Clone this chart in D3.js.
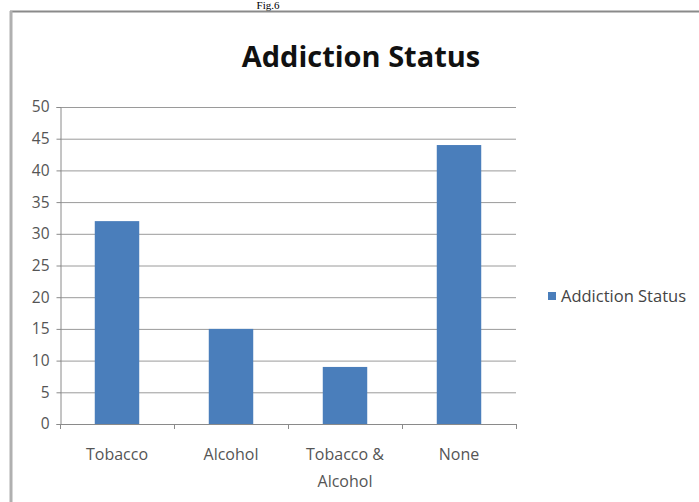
<!DOCTYPE html>
<html>
<head>
<meta charset="utf-8">
<script src="https://cdn.jsdelivr.net/npm/d3@7"></script>
<style>
  html, body { margin: 0; padding: 0; background: #fff; }
  svg { display: block; }
</style>
</head>
<body>
<script>
// Addiction status counts by category
const categories = ["Tobacco", "Alcohol", "Tobacco & Alcohol", "None"];
const categoryLines = [["Tobacco"], ["Alcohol"], ["Tobacco &", "Alcohol"], ["None"]];
const values = [32, 15, 9, 44];
const yTicks = [0, 5, 10, 15, 20, 25, 30, 35, 40, 45, 50];
const seriesName = "Addiction Status";

const W = 699, H = 502;
const FONT = "Open Sans, Liberation Sans, sans-serif";
const svg = d3.select("body").append("svg").attr("width", W).attr("height", H);

// figure caption above the chart frame
svg.append("text")
  .attr("x", 268).attr("y", 9)
  .attr("text-anchor", "middle")
  .attr("font-family", "Liberation Serif, serif")
  .attr("font-size", 11)
  .attr("fill", "#000")
  .text("Fig.6");

// chart frame
svg.append("line").attr("x1", 10).attr("x2", W).attr("y1", 11.5).attr("y2", 11.5)
  .attr("stroke", "#8a8a8a").attr("stroke-width", 2);
svg.append("line").attr("x1", 11).attr("x2", 11).attr("y1", 11).attr("y2", H)
  .attr("stroke", "#b0b0b0").attr("stroke-width", 3);

const plot = { left: 60, right: 516, top: 107, bottom: 424 };

const x = d3.scaleBand().domain(categories)
  .range([plot.left, plot.right]).paddingInner(0.61).paddingOuter(0.305);
const y = d3.scaleLinear().domain([0, 50]).range([plot.bottom, plot.top]);

// gridlines
svg.append("g").selectAll("line").data(yTicks.filter(d => d > 0)).join("line")
  .attr("x1", plot.left).attr("x2", plot.right)
  .attr("y1", d => y(d) + 0.5).attr("y2", d => y(d) + 0.5)
  .attr("stroke", "#9a9a9a").attr("stroke-width", 1);

// bars
svg.append("g").selectAll("rect").data(values).join("rect")
  .attr("x", (d, i) => x(categories[i]))
  .attr("width", x.bandwidth())
  .attr("y", d => y(d))
  .attr("height", d => y(0) - y(d))
  .attr("fill", "#4a7ebb");

// y axis
const yAxis = svg.append("g")
  .attr("transform", `translate(${plot.left + 0.5},0)`)
  .call(d3.axisLeft(y).tickValues(yTicks).tickSize(4).tickPadding(7));
yAxis.select(".domain").attr("stroke", "#8a8a8a");
yAxis.selectAll(".tick line").attr("stroke", "#8a8a8a");
yAxis.selectAll("text")
  .attr("font-family", FONT)
  .attr("font-size", 15.5).attr("fill", "#555");

// x axis line with tick marks at category boundaries
const xg = svg.append("g");
xg.append("line").attr("x1", plot.left).attr("x2", plot.right)
  .attr("y1", plot.bottom + 0.5).attr("y2", plot.bottom + 0.5).attr("stroke", "#8a8a8a");
const step = x.step();
const bounds = d3.range(categories.length + 1).map(i => plot.left + i * step);
xg.selectAll(".bt").data(bounds).join("line")
  .attr("x1", d => d + 0.5).attr("x2", d => d + 0.5)
  .attr("y1", plot.bottom).attr("y2", plot.bottom + 5)
  .attr("stroke", "#8a8a8a");

// category labels
const lab = svg.append("g").selectAll("text").data(categories).join("text")
  .attr("x", d => x(d) + x.bandwidth() / 2)
  .attr("y", 460)
  .attr("text-anchor", "middle")
  .attr("font-family", FONT)
  .attr("font-size", 16).attr("fill", "#555");
lab.selectAll("tspan").data((d, i) => categoryLines[i]).join("tspan")
  .attr("x", function () { return d3.select(this.parentNode).attr("x"); })
  .attr("dy", (d, j) => j === 0 ? 0 : 27)
  .text(d => d);

// title
svg.append("text")
  .attr("x", 361).attr("y", 67)
  .attr("text-anchor", "middle")
  .attr("font-family", FONT)
  .attr("font-weight", "bold")
  .attr("font-size", 29)
  .attr("fill", "#111")
  .text(seriesName);

// legend
svg.append("rect").attr("x", 548).attr("y", 292).attr("width", 8).attr("height", 8)
  .attr("fill", "#4a7ebb");
svg.append("text")
  .attr("x", 561).attr("y", 302)
  .attr("font-family", FONT)
  .attr("font-size", 16.5).attr("fill", "#444")
  .text(seriesName);
</script>
</body>
</html>
